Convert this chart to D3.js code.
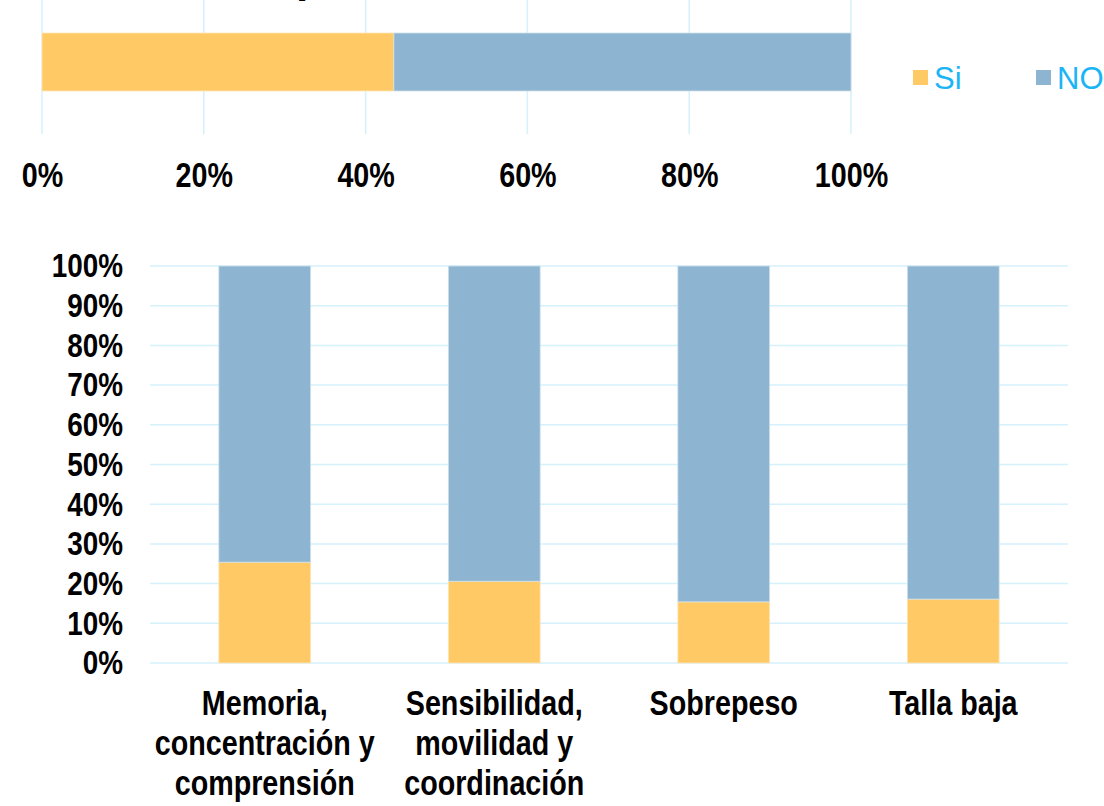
<!DOCTYPE html>
<html><head><meta charset="utf-8">
<script src="https://cdn.jsdelivr.net/npm/d3@7"></script>
<style>
body{margin:0;background:#fff;}
svg{display:block;}
</style></head>
<body>
<svg id="c" width="1104" height="806"></svg>
<script>
// Top summary bar
const summaryCategories = ["Total"];
const summarySi = [0.435];
const summaryNo = [0.565];
const topTicks = [0, 0.2, 0.4, 0.6, 0.8, 1.0];

// Bottom chart
const categories = [
  ["Memoria,", "concentración y", "comprensión"],
  ["Sensibilidad,", "movilidad y", "coordinación"],
  ["Sobrepeso"],
  ["Talla baja"]
];
const siValues = [0.254, 0.206, 0.154, 0.161];
const noValues = [0.746, 0.794, 0.846, 0.839];
const yTicks = [0, 0.1, 0.2, 0.3, 0.4, 0.5, 0.6, 0.7, 0.8, 0.9, 1.0];
const seriesNames = ["Si", "NO"];

const colSi = "#FFCA66", colNo = "#8DB4D0", grid = "#D5F1FB";
const sans = "'Liberation Sans',Arial,sans-serif";
const NARROW = "scale(0.82,1)";
const svg = d3.select("#c");
const fmt = d3.format(".0%");

// Partially visible title glyph (title is cut off at the top edge)
svg.append("text").attr("x", 296).attr("y", -8)
  .attr("font-family", sans).attr("font-weight", "bold")
  .attr("font-size", 44).attr("fill", "#000").text("p");

// ---- Top chart ----
const xTop = d3.scaleLinear().domain([0, 1]).range([42, 851]);
const yTop = d3.scaleBand().domain(summaryCategories).range([33, 91]).padding(0);
svg.append("g").selectAll("line").data(topTicks).join("line")
  .attr("x1", d => xTop(d)).attr("x2", d => xTop(d))
  .attr("y1", 0).attr("y2", 134)
  .attr("stroke", grid).attr("stroke-width", 1.5);
const topStack = summaryCategories.map((c, i) => ({c, si: summarySi[i], no: summaryNo[i]}));
svg.append("g").selectAll("rect").data(topStack).join("rect")
  .attr("x", xTop(0)).attr("y", d => yTop(d.c))
  .attr("width", d => xTop(d.si) - xTop(0)).attr("height", yTop.bandwidth())
  .attr("fill", colSi).attr("stroke", "#fde6b8").attr("stroke-width", 0.8);
svg.append("g").selectAll("rect").data(topStack).join("rect")
  .attr("x", d => xTop(d.si)).attr("y", d => yTop(d.c))
  .attr("width", d => xTop(d.si + d.no) - xTop(d.si)).attr("height", yTop.bandwidth())
  .attr("fill", colNo).attr("stroke", "#cfe0ec").attr("stroke-width", 0.8);
const axTop = svg.append("g").attr("transform", "translate(0,175)")
  .call(d3.axisBottom(xTop).tickValues(topTicks).tickFormat(fmt).tickSize(0).tickPadding(0));
axTop.select(".domain").remove();
axTop.selectAll("text").attr("font-family", sans).attr("font-weight", "bold")
  .attr("font-size", 35).attr("fill", "#000").attr("y", 0).attr("dy", "0.35em")
  .attr("transform", NARROW);

// Legend
const legend = svg.append("g");
const legX = [913, 1036];
const legCols = [colSi, colNo];
seriesNames.forEach((n, i) => {
  legend.append("rect").attr("x", legX[i]).attr("y", 70).attr("width", 15).attr("height", 15)
    .attr("fill", legCols[i]);
  legend.append("text").attr("x", legX[i] + 21).attr("y", 78).attr("dy", "0.35em")
    .attr("font-family", sans).attr("font-size", 31)
    .attr("fill", "#1BB5F5").text(n);
});

// ---- Bottom chart ----
const x = d3.scaleBand().domain(d3.range(categories.length)).range([150, 1068])
  .paddingInner(0.6).paddingOuter(0.3);
const y = d3.scaleLinear().domain([0, 1]).range([663, 266]);
svg.append("g").selectAll("line").data(yTicks).join("line")
  .attr("x1", 150).attr("x2", 1068)
  .attr("y1", d => y(d)).attr("y2", d => y(d))
  .attr("stroke", grid).attr("stroke-width", 1.5);
const stackData = categories.map((c, i) => ({i, si: siValues[i], no: noValues[i]}));
svg.append("g").selectAll("rect").data(stackData).join("rect")
  .attr("x", d => x(d.i)).attr("width", x.bandwidth())
  .attr("y", d => y(d.si)).attr("height", d => y(0) - y(d.si))
  .attr("fill", colSi).attr("stroke", "#fde6b8").attr("stroke-width", 0.8);
svg.append("g").selectAll("rect").data(stackData).join("rect")
  .attr("x", d => x(d.i)).attr("width", x.bandwidth())
  .attr("y", d => y(d.si + d.no)).attr("height", d => y(d.si) - y(d.si + d.no))
  .attr("fill", colNo).attr("stroke", "#cfe0ec").attr("stroke-width", 0.8);
const axY = svg.append("g").attr("transform", "translate(123,0)")
  .call(d3.axisLeft(y).tickValues(yTicks).tickFormat(fmt).tickSize(0).tickPadding(0));
axY.select(".domain").remove();
axY.selectAll("text").attr("font-family", sans).attr("font-weight", "bold")
  .attr("font-size", 34).attr("fill", "#000").attr("x", 0)
  .attr("transform", NARROW);

const axX = svg.append("g").attr("transform", "translate(0,663)")
  .call(d3.axisBottom(x).tickSize(0).tickFormat(""));
axX.select(".domain").remove();
axX.selectAll(".tick").each(function(d) {
  const t = d3.select(this).append("text").attr("text-anchor", "middle")
    .attr("font-family", sans).attr("font-weight", "bold")
    .attr("font-size", 35).attr("fill", "#000").attr("transform", NARROW);
  categories[d].forEach((line, k) => {
    t.append("tspan").attr("x", 0).attr("y", 52 + k * 40).text(line);
  });
});
</script>
</body></html>
